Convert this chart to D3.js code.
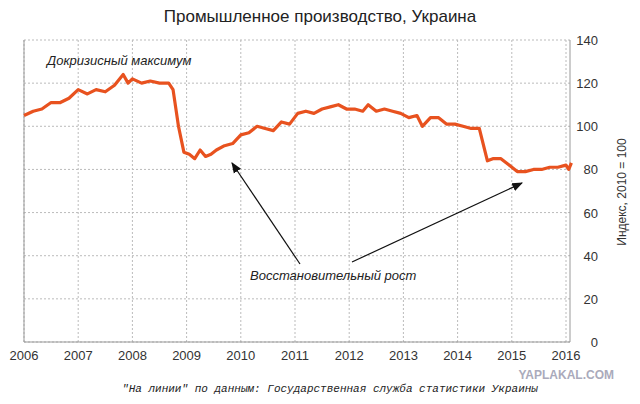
<!DOCTYPE html>
<html><head><meta charset="utf-8">
<script src="https://cdn.jsdelivr.net/npm/d3@7"></script>
<style>body{margin:0;background:#fff}</style>
</head><body><div id="chart"></div>
<script>
// time (fractional year) and index value
var times = [2006.0,2006.17,2006.33,2006.5,2006.67,2006.83,2007.0,2007.17,2007.33,2007.5,2007.67,2007.83,2007.92,2008.0,2008.17,2008.33,2008.5,2008.67,2008.75,2008.85,2008.95,2009.05,2009.15,2009.25,2009.35,2009.45,2009.55,2009.7,2009.85,2010.0,2010.15,2010.3,2010.45,2010.6,2010.75,2010.9,2011.05,2011.2,2011.35,2011.5,2011.65,2011.8,2011.95,2012.1,2012.25,2012.35,2012.5,2012.65,2012.8,2012.95,2013.1,2013.25,2013.35,2013.5,2013.65,2013.8,2013.95,2014.1,2014.25,2014.4,2014.55,2014.65,2014.8,2014.95,2015.1,2015.25,2015.4,2015.55,2015.7,2015.85,2016.0,2016.05,2016.1];
var values = [105,107,108,111,111,113,117,115,117,116,119,124,120,122,120,121,120,120,117,100,88,87,85,89,86,87,89,91,92,96,97,100,99,98,102,101,106,107,106,108,109,110,108,108,107,110,107,108,107,106,104,105,100,104,104,101,101,100,99,99,84,85,85,82,79,79,80,80,81,81,82,80,83];
var yTicks = [0,20,40,60,80,100,120,140];
var xTicks = [2006,2007,2008,2009,2010,2011,2012,2013,2014,2015,2016];

var W = 640, H = 404;
var svg = d3.select("#chart").append("svg").attr("width", W).attr("height", H)
  .style("font-family", "'Liberation Sans', Arial, sans-serif");

var x = d3.scaleLinear().domain([2006, 2016]).range([24, 566]);
var y = d3.scaleLinear().domain([0, 140]).range([342, 40]);

// grid
svg.selectAll(".gy").data(yTicks).enter().append("line")
  .attr("x1", 24).attr("x2", 570).attr("y1", y).attr("y2", y)
  .attr("stroke", "#bbb").attr("stroke-dasharray", "2,2");
svg.selectAll(".gx").data(xTicks).enter().append("line")
  .attr("x1", x).attr("x2", x).attr("y1", 40).attr("y2", 342)
  .attr("stroke", "#bbb").attr("stroke-dasharray", "2,2");
svg.append("line").attr("x1", 24).attr("x2", 24).attr("y1", 40).attr("y2", 342).attr("stroke", "#999");
svg.append("line").attr("x1", 570).attr("x2", 570).attr("y1", 40).attr("y2", 342).attr("stroke", "#999");
svg.append("line").attr("x1", 24).attr("x2", 570).attr("y1", 342).attr("y2", 342).attr("stroke", "#999");

// axis labels
svg.selectAll(".yl").data(yTicks).enter().append("text")
  .attr("x", 598).attr("y", function(d){ return y(d) + 5; }).attr("text-anchor", "end")
  .attr("font-size", 13).attr("fill", "#333").text(function(d){ return d; });
svg.selectAll(".xl").data(xTicks).enter().append("text")
  .attr("x", x).attr("y", 360).attr("text-anchor", "middle")
  .attr("font-size", 13).attr("fill", "#333").text(function(d){ return d; });

svg.append("text").attr("transform", "translate(626,192) rotate(-90)").attr("text-anchor", "middle")
  .attr("font-size", 12).attr("fill", "#333").text("Индекс, 2010 = 100");
svg.append("text").attr("x", 320).attr("y", 22).attr("text-anchor", "middle")
  .attr("font-size", 17).attr("fill", "#222").text("Промышленное производство, Украина");

// line
var line = d3.line().x(function(d, i){ return x(times[i]); }).y(function(d){ return y(d); });
svg.append("path").datum(values).attr("d", line).attr("fill", "none")
  .attr("stroke", "#e8521f").attr("stroke-width", 3.2).attr("stroke-linejoin", "round");

// annotations
svg.append("defs").append("marker").attr("id", "ah").attr("viewBox", "0 0 10 10")
  .attr("refX", 9).attr("refY", 5).attr("markerWidth", 9).attr("markerHeight", 9).attr("orient", "auto")
  .append("path").attr("d", "M0,1L10,5L0,9Z").attr("fill", "#111");
svg.append("text").attr("x", 47).attr("y", 65).attr("font-size", 13).attr("font-style", "italic")
  .attr("fill", "#222").text("Докризисный максимум");
svg.append("text").attr("x", 250).attr("y", 280).attr("font-size", 13).attr("font-style", "italic")
  .attr("fill", "#222").text("Восстановительный рост");
svg.append("line").attr("x1", 300).attr("y1", 264).attr("x2", 232).attr("y2", 163)
  .attr("stroke", "#111").attr("stroke-width", 1.2).attr("marker-end", "url(#ah)");
svg.append("line").attr("x1", 352).attr("y1", 262).attr("x2", 522).attr("y2", 183)
  .attr("stroke", "#111").attr("stroke-width", 1.2).attr("marker-end", "url(#ah)");

svg.append("text").attr("x", 330).attr("y", 392).attr("text-anchor", "middle")
  .attr("font-family", "'Liberation Mono', 'DejaVu Sans Mono', monospace").attr("font-style", "italic")
  .attr("font-size", 11).attr("fill", "#222")
  .text("\"На линии\" по данным: Государственная служба статистики Украины");
svg.append("text").attr("x", 614).attr("y", 379).attr("text-anchor", "end")
  .attr("font-size", 12).attr("font-weight", "bold").attr("fill", "#aab").text("YAPLAKAL.COM");
</script></body></html>
